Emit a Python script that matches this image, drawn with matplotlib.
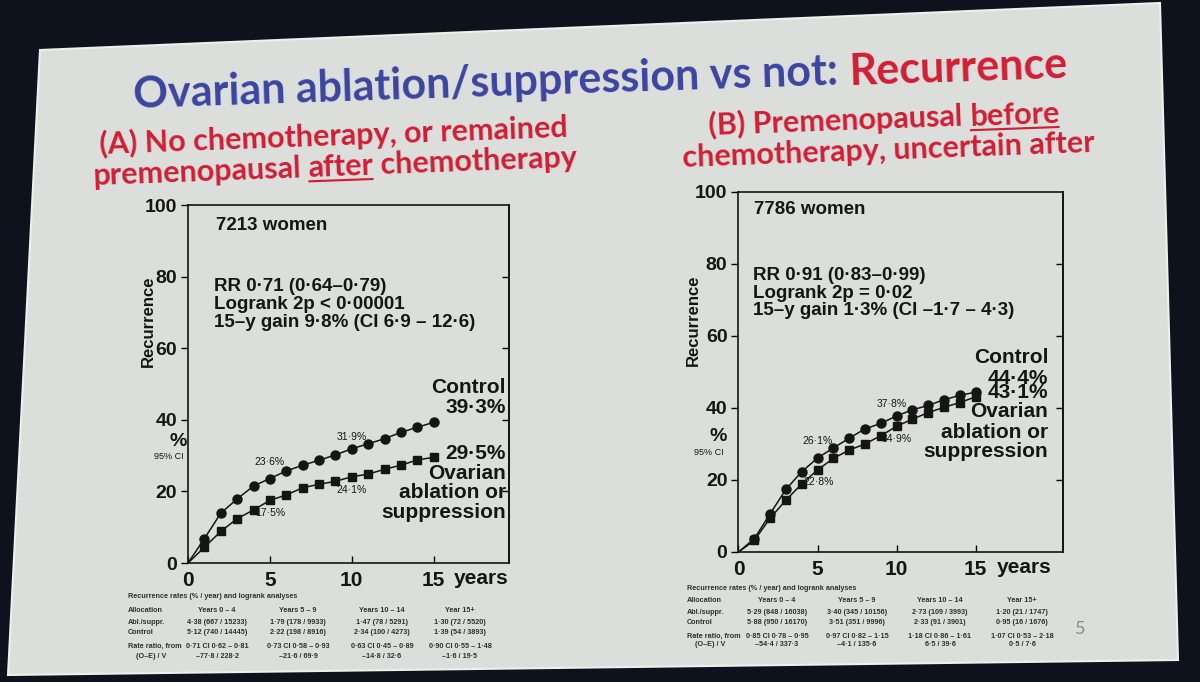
import matplotlib.pyplot as plt
from matplotlib.patches import Polygon
import numpy as np

W, H = 1200, 682
SANS = 'Liberation Sans'
NARROW = ['Liberation Sans Narrow', 'Liberation Sans']
SLIDE = 'Lato'
BLUE = '#3b44a0'
RED = '#d21d34'
INK = '#151515'

# recurrence (%) by year
years = list(range(16))
a_control = [0, 6.8, 13.9, 17.9, 21.5, 23.6, 25.7, 27.3, 28.7, 30.2, 31.9, 33.3, 34.7, 36.5, 37.9, 39.3]
a_ovarian = [0, 4.4, 8.8, 12.4, 14.8, 17.5, 19.0, 21.0, 22.0, 22.8, 24.1, 24.8, 26.2, 27.3, 28.8, 29.5]
b_control = [0, 3.7, 10.6, 17.4, 22.3, 26.1, 28.9, 31.6, 34.2, 35.7, 37.8, 39.5, 40.7, 42.3, 43.5, 44.4]
b_ovarian = [0, 3.2, 9.4, 14.4, 18.9, 22.8, 26.0, 28.3, 30.0, 32.3, 34.9, 36.9, 38.7, 40.2, 41.5, 43.1]

a_women = '7213 women'
a_stats = ['RR 0·71 (0·64–0·79)', 'Logrank 2p < 0·00001', '15–y gain 9·8% (CI 6·9 – 12·6)']
b_women = '7786 women'
b_stats = ['RR 0·91 (0·83–0·99)', 'Logrank 2p = 0·02', '15–y gain 1·3% (CI –1·7 – 4·3)']

table_title = 'Recurrence rates (% / year) and logrank analyses'
periods = ['Years 0 – 4', 'Years 5 – 9', 'Years 10 – 14', 'Year 15+']
row_names = ['Allocation', 'Abl./suppr.', 'Control', 'Rate ratio, from', '(O–E) / V']
a_abl = ['4·38 (667 / 15233)', '1·79 (178 / 9933)', '1·47 (78 / 5291)', '1·30 (72 / 5520)']
a_ctl = ['5·12 (740 / 14445)', '2·22 (198 / 8916)', '2·34 (100 / 4273)', '1·39 (54 / 3893)']
a_rr = ['0·71 CI 0·62 – 0·81', '0·73 CI 0·58 – 0·93', '0·63 CI 0·45 – 0·89', '0·90 CI 0·55 – 1·48']
a_oe = ['–77·8 / 228·2', '–21·6 / 69·9', '–14·8 / 32·6', '–1·6 / 19·5']
b_abl = ['5·29 (848 / 16038)', '3·40 (345 / 10156)', '2·73 (109 / 3993)', '1·20 (21 / 1747)']
b_ctl = ['5·88 (950 / 16170)', '3·51 (351 / 9996)', '2·33 (91 / 3901)', '0·95 (16 / 1676)']
b_rr = ['0·85 CI 0·78 – 0·95', '0·97 CI 0·82 – 1·15', '1·18 CI 0·86 – 1·61', '1·07 CI 0·53 – 2·18']
b_oe = ['–54·4 / 337·3', '–4·1 / 135·6', '6·5 / 39·6', '0·5 / 7·6']


def pct(v):
    return f'{v:.1f}%'.replace('.', '·')


fig = plt.figure(figsize=(12, 6.82), dpi=100)
fig.patch.set_facecolor('#0e121d')

# background layer in picture pixels (y down)
bg = fig.add_axes([0, 0, 1, 1])
bg.set_xlim(0, W)
bg.set_ylim(H, 0)
bg.axis('off')
bg.add_patch(Polygon([(40, 50), (1160, 3), (1178, 660), (8, 675)], closed=True,
                     facecolor='#dcdedb', edgecolor='#eef0ee', lw=1.5))
renderer = fig.canvas.get_renderer()


def text_width(s, size):
    t = bg.text(0, 0, s, fontsize=size, fontweight='bold', family=SLIDE)
    w = t.get_window_extent(renderer).width
    t.remove()
    return w


def fit_size(pieces, width):
    s = ' '.join(p[0] for p in pieces)
    return 10 * width / text_width(s, 10)


def draw_line(pieces, cx, cy, size, angle):
    th = np.radians(angle)
    d = np.array([np.cos(th), -np.sin(th)])
    n = np.array([np.sin(th), np.cos(th)])
    sp = text_width('x x', size) - text_width('xx', size)
    ws = [text_width(p[0], size) for p in pieces]
    total = sum(ws) + sp * (len(pieces) - 1)
    p0 = np.array([cx, cy]) - d * total / 2
    for (s, col, ul), w in zip(pieces, ws):
        bg.text(p0[0], p0[1], s, fontsize=size, fontweight='bold', family=SLIDE, color=col,
                rotation=angle, rotation_mode='anchor', ha='left', va='baseline')
        if ul:
            a = p0 + n * size * 0.2
            b = a + d * w
            bg.plot([a[0], b[0]], [a[1], b[1]], color=col, lw=size * 0.07, solid_capstyle='butt')
        p0 = p0 + d * (w + sp)


title = [('Ovarian ablation/suppression vs not:', BLUE, False), ('Recurrence', RED, False)]
draw_line(title, 601, 93, fit_size(title, 937), 1.9)

sub_a1 = [('(A) No chemotherapy, or remained', RED, False)]
sub_a2 = [('premenopausal', RED, False), ('after', RED, True), ('chemotherapy', RED, False)]
sub_b1 = [('(B) Premenopausal', RED, False), ('before', RED, True)]
sub_b2 = [('chemotherapy, uncertain after', RED, False)]
sub_size = np.mean([fit_size(sub_a1, 458), fit_size(sub_a2, 475),
                    fit_size(sub_b1, 365), fit_size(sub_b2, 418)])
draw_line(sub_a1, 334, 145, sub_size, 2.1)
draw_line(sub_a2, 335, 176, sub_size, 2.1)
draw_line(sub_b1, 884, 129, sub_size, 2.1)
draw_line(sub_b2, 889, 159, sub_size, 2.1)

bg.text(1080, 629, '5', fontsize=13, color='#8a8c8a', family=SLIDE, ha='center', va='center')


def draw_table(x0, cols, rows, abl, ctl, rr, oe):
    kw = dict(fontsize=5.2, fontweight='bold', family=NARROW, color='#303030', va='center')
    bg.text(x0, rows[0], table_title, ha='left', **kw)
    bg.text(x0, rows[1], row_names[0], ha='left', **kw)
    bg.text(x0, rows[2], row_names[1], ha='left', **kw)
    bg.text(x0, rows[3], row_names[2], ha='left', **kw)
    bg.text(x0, rows[4], row_names[3], ha='left', **kw)
    bg.text(x0 + 8, rows[5], row_names[4], ha='left', **kw)
    for i, c in enumerate(cols):
        bg.text(c, rows[1], periods[i], ha='center', **kw)
        bg.text(c, rows[2], abl[i], ha='center', **kw)
        bg.text(c, rows[3], ctl[i], ha='center', **kw)
        bg.text(c, rows[4], rr[i], ha='center', **kw)
        bg.text(c, rows[5], oe[i], ha='center', **kw)


draw_table(128, [217, 298, 382, 460], [597, 610, 623, 633, 646, 656], a_abl, a_ctl, a_rr, a_oe)
draw_table(687, [777, 857, 940, 1022], [589, 600, 613, 623, 636, 645], b_abl, b_ctl, b_rr, b_oe)


def panel(rect, xmax, ctl, ova, women, stats, women_y, stats_y, end_x, end_ys,
          mid_labels, pct_pos, ylab_pos, years_x):
    ax = fig.add_axes(rect)
    ax.set_facecolor('none')
    ax.plot(years, ctl, color=INK, lw=1.1, marker='o', ms=6.5, markevery=list(range(1, 16)))
    ax.plot(years, ova, color=INK, lw=1.1, marker='s', ms=5.5, markevery=list(range(1, 16)))
    ax.set_xlim(0, xmax)
    ax.set_ylim(0, 100)
    for s in ax.spines.values():
        s.set_linewidth(1.2)
        s.set_color(INK)
    ax.set_xticks([0, 5, 10, 15])
    ax.set_yticks([0, 20, 40, 60, 80, 100])
    ax.tick_params(axis='x', direction='in', length=5, width=1, labelsize=15, pad=6)
    ax.tick_params(axis='y', direction='out', length=5, width=1, labelsize=14, pad=3)
    for lab in ax.get_xticklabels() + ax.get_yticklabels():
        lab.set_family(SANS)
        lab.set_fontweight('bold')
        lab.set_color(INK)
    sec = ax.secondary_yaxis('right')
    sec.set_yticks([20, 40, 60, 80])
    sec.set_yticklabels([])
    sec.tick_params(direction='in', length=5, width=1)
    sec.spines['right'].set_linewidth(1.2)

    ax.set_ylabel('Recurrence', fontsize=12, fontweight='bold', family=SANS, color=INK)
    ax.yaxis.set_label_coords(*ylab_pos)
    ax.text(years_x, -4.2, 'years', fontsize=15, fontweight='bold', family=SANS, color=INK,
            ha='center', va='center', clip_on=False)
    ax.text(pct_pos[0], pct_pos[1], '%', fontsize=14, fontweight='bold', family=SANS, color=INK,
            ha='center', va='center', clip_on=False)
    ax.text(pct_pos[0] - 0.6, pct_pos[1] - 4.3, '95% CI', fontsize=6.5, family=SANS, color=INK,
            ha='center', va='center', clip_on=False)

    tk = dict(family=SANS, color=INK, ha='left', va='center', fontweight='bold')
    ax.text(women[0], women_y, women[1], fontsize=13.5, **tk)
    for i, s in enumerate(stats):
        ax.text(women[0] - 0.1, stats_y[i], s, fontsize=13.5, **tk)

    ek = dict(family=SANS, color=INK, ha='right', va='center', fontsize=15, fontweight='bold')
    for txt, y in zip(end_ys[0], end_ys[1]):
        ax.text(end_x, y, txt, **ek)

    for yr, series, dx, dy in mid_labels:
        ax.text(yr + dx, series[yr] + dy, pct(series[yr]), fontsize=7.5, family=SANS,
                color=INK, ha='center', va='center')
    return ax


panel([188 / W, 1 - 563 / H, 321 / W, 358 / H], 19.6, a_control, a_ovarian,
      (1.7, a_women), a_stats, 94.4, [77.1, 72.1, 67.3], 19.4,
      (['Control', pct(a_control[-1]), pct(a_ovarian[-1]), 'Ovarian', 'ablation or', 'suppression'],
       [48.9, 43.3, 30.7, 25.1, 19.6, 14.2]),
      [(5, a_control, 0, 4.7), (10, a_control, 0, 3.3),
       (5, a_ovarian, 0, -3.6), (10, a_ovarian, 0, -3.6)],
      (-0.6, 34.0), (-0.10, 0.676), 17.9)

panel([738.5 / W, 1 - 552 / H, 324 / W, 360 / H], 20.5, b_control, b_ovarian,
      (1.0, b_women), b_stats, 95.0, [76.9, 71.9, 67.2], 19.6,
      (['Control', pct(b_control[-1]), pct(b_ovarian[-1]), 'Ovarian', 'ablation or', 'suppression'],
       [53.9, 48.3, 44.2, 38.9, 33.3, 27.8]),
      [(5, b_control, 0, 4.7), (10, b_control, -0.3, 3.4),
       (5, b_ovarian, 0.05, -3.3), (10, b_ovarian, 0, -3.4)],
      (-1.3, 32.0), (-0.115, 0.644), 18.1)

fig.savefig('out.png', dpi=100, facecolor=fig.get_facecolor())
